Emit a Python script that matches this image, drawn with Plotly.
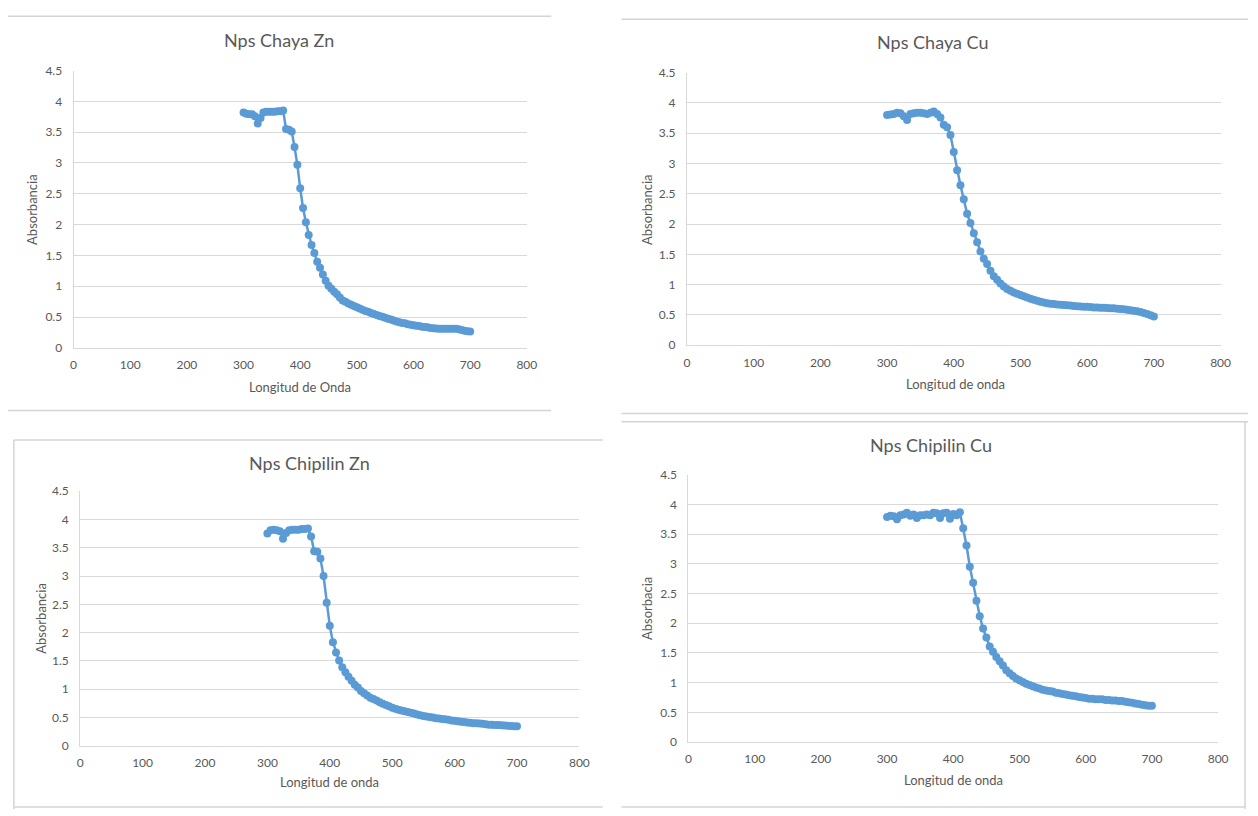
import plotly.graph_objects as go

# ---------------- data ----------------
wavelength = list(range(300, 701, 5))

chaya_zn = [3.82, 3.80, 3.79, 3.79, 3.76, 3.64, 3.73, 3.82, 3.83, 3.83,
            3.83, 3.83, 3.84, 3.84, 3.85, 3.55, 3.54, 3.51, 3.26, 2.97,
            2.59, 2.27, 2.04, 1.83, 1.67, 1.54, 1.40, 1.30, 1.19, 1.09,
            1.01, 0.96, 0.91, 0.87, 0.82, 0.77, 0.75, 0.72, 0.70, 0.68,
            0.66, 0.64, 0.62, 0.60, 0.585, 0.565, 0.55, 0.535, 0.52, 0.505,
            0.49, 0.475, 0.46, 0.445, 0.43, 0.415, 0.405, 0.40, 0.385, 0.375,
            0.37, 0.36, 0.355, 0.345, 0.34, 0.335, 0.325, 0.32, 0.315, 0.31,
            0.31, 0.31, 0.31, 0.31, 0.31, 0.31, 0.305, 0.29, 0.28, 0.27,
            0.265]

chaya_cu = [3.80, 3.81, 3.82, 3.84, 3.83, 3.78, 3.72, 3.82, 3.83, 3.84,
            3.84, 3.83, 3.82, 3.84, 3.86, 3.82, 3.76, 3.64, 3.60, 3.47,
            3.19, 2.89, 2.64, 2.41, 2.17, 2.02, 1.85, 1.70, 1.55, 1.43,
            1.34, 1.23, 1.14, 1.08, 1.02, 0.97, 0.93, 0.90, 0.87, 0.85,
            0.83, 0.81, 0.79, 0.77, 0.75, 0.735, 0.72, 0.705, 0.695, 0.685,
            0.68, 0.675, 0.67, 0.665, 0.66, 0.655, 0.65, 0.645, 0.64, 0.635,
            0.635, 0.63, 0.625, 0.625, 0.62, 0.62, 0.615, 0.61, 0.61, 0.605,
            0.60, 0.595, 0.585, 0.58, 0.57, 0.56, 0.55, 0.535, 0.515, 0.495,
            0.475]

chipilin_zn = [3.75, 3.81, 3.82, 3.81, 3.79, 3.66, 3.76, 3.81, 3.82, 3.82,
               3.82, 3.83, 3.83, 3.84, 3.70, 3.44, 3.43, 3.31, 3.00, 2.53,
               2.12, 1.83, 1.65, 1.51, 1.39, 1.30, 1.22, 1.15, 1.08, 1.03,
               0.97, 0.93, 0.89, 0.85, 0.83, 0.80, 0.77, 0.745, 0.72, 0.70,
               0.675, 0.655, 0.64, 0.625, 0.61, 0.60, 0.585, 0.57, 0.555, 0.54,
               0.53, 0.52, 0.51, 0.50, 0.49, 0.485, 0.475, 0.47, 0.46, 0.45,
               0.445, 0.435, 0.425, 0.42, 0.415, 0.41, 0.40, 0.40, 0.395, 0.39,
               0.38, 0.375, 0.375, 0.37, 0.37, 0.365, 0.36, 0.355, 0.35, 0.345,
               0.345]

chipilin_cu = [3.79, 3.81, 3.80, 3.75, 3.82, 3.83, 3.86, 3.81, 3.83, 3.77,
               3.82, 3.82, 3.83, 3.82, 3.86, 3.85, 3.77, 3.85, 3.86, 3.76,
               3.84, 3.82, 3.87, 3.60, 3.31, 2.95, 2.68, 2.38, 2.12, 1.91,
               1.76, 1.61, 1.52, 1.43, 1.36, 1.29, 1.21, 1.16, 1.11, 1.07,
               1.04, 1.01, 0.98, 0.96, 0.94, 0.92, 0.90, 0.88, 0.87, 0.86,
               0.85, 0.83, 0.82, 0.81, 0.80, 0.79, 0.78, 0.77, 0.76, 0.75,
               0.74, 0.73, 0.73, 0.72, 0.72, 0.72, 0.71, 0.71, 0.70, 0.70,
               0.69, 0.69, 0.68, 0.67, 0.66, 0.65, 0.64, 0.63, 0.62, 0.61,
               0.61]

titles = ["Nps Chaya Zn", "Nps Chaya Cu", "Nps Chipilin Zn", "Nps Chipilin Cu"]
x_titles = ["Longitud de Onda", "Longitud de onda", "Longitud de onda", "Longitud de onda"]
y_titles = ["Absorbancia", "Absorbancia", "Absorbancia", "Absorbacia"]
series = [chaya_zn, chaya_cu, chipilin_zn, chipilin_cu]

# ---------------- layout helpers ----------------
W, H = 1258, 816
def px(x):
    return x / W
def py(y):
    return 1 - y / H

# plot-area boxes in window pixels: (left, right, top, bottom)
boxes = [
    (71.3, 529.3, 63.7, 346.3),
    (691.1, 1230.3, 65.9, 343.6),
    (78.0, 582.4, 492.2, 751.7),
    (692.6, 1227.8, 475.5, 747.8),
]
title_pos = [(279, 33), (939, 35), (310, 464), (938, 445)]
xtitle_pos = [(300, 386.5), (962, 383), (330, 789), (960, 786.5)]
ytitle_pos = [(30, 205), (650.5, 205), (38, 621.5), (650.5, 611.5)]

BLUE = "#5B9BD5"
GREY_TXT = "#595959"
GRID = "#d9d9d9"
FONT = "Lato, 'Open Sans', sans-serif"

fig = go.Figure()
annotations = []
layout_axes = {}

for i in range(4):
    n = "" if i == 0 else str(i + 1)
    fig.add_trace(go.Scatter(
        x=wavelength, y=series[i], mode="lines+markers",
        xaxis="x" + n, yaxis="y" + n,
        line=dict(color=BLUE, width=2.5),
        marker=dict(color=BLUE, size=8, line=dict(width=0)),
        showlegend=False, hoverinfo="x+y", cliponaxis=False,
    ))
    l, r, t, b = boxes[i]
    layout_axes["xaxis" + n] = dict(
        domain=[px(l), px(r)], anchor="y" + n, range=[0, 800], dtick=100,
        tick0=0, showgrid=False, zeroline=False, showline=True,
        linecolor=GRID, linewidth=1, ticks="",
        tickfont=dict(family=FONT, size=12, color=GREY_TXT),
        ticklabelstandoff=6, fixedrange=True,
    )
    layout_axes["yaxis" + n] = dict(
        domain=[py(b), py(t)], anchor="x" + n, range=[0, 4.5], dtick=0.5,
        tick0=0, showgrid=True, gridcolor=GRID, gridwidth=1, zeroline=False,
        showline=True, linecolor=GRID, linewidth=1, ticks="",
        tickfont=dict(family=FONT, size=12, color=GREY_TXT),
        ticklabelstandoff=8, fixedrange=True,
    )
    tx, ty = title_pos[i]
    annotations.append(dict(text=titles[i], x=px(tx), y=py(ty), xref="paper",
                            yref="paper", showarrow=False, xanchor="center",
                            yanchor="middle",
                            font=dict(family=FONT, size=18, color=GREY_TXT)))
    tx, ty = xtitle_pos[i]
    annotations.append(dict(text=x_titles[i], x=px(tx), y=py(ty), xref="paper",
                            yref="paper", showarrow=False, xanchor="center",
                            yanchor="middle",
                            font=dict(family=FONT, size=13, color=GREY_TXT)))
    tx, ty = ytitle_pos[i]
    annotations.append(dict(text=y_titles[i], x=px(tx), y=py(ty), xref="paper",
                            yref="paper", showarrow=False, xanchor="center",
                            yanchor="middle", textangle=-90,
                            font=dict(family=FONT, size=13, color=GREY_TXT)))

# panel border lines (screenshot frame edges), in window pixels
BORDER = "#d4d4d4"
border_lines = [
    (5, 8.5, 554, 8.5), (5, 410, 554, 410),              # top-left panel
    (625, 11.5, 1258, 11.5), (625, 413, 1258, 413),      # top-right panel
    (11, 440, 606, 440), (11, 440, 11, 816), (11, 814, 606, 814),  # bottom-left
    (625, 421.5, 1258, 421.5), (1255, 421.5, 1255, 816),
    (625, 814, 1255, 814),                               # bottom-right
]
shapes = []
for x0, y0, x1, y1 in border_lines:
    shapes.append(dict(type="line", xref="paper", yref="paper",
                       x0=px(x0), y0=py(y0), x1=px(x1), y1=py(y1),
                       line=dict(color=BORDER, width=1.5)))

fig.update_layout(
    width=W, height=H, margin=dict(l=0, r=0, t=0, b=0),
    paper_bgcolor="white", plot_bgcolor="white",
    annotations=annotations, shapes=shapes, **layout_axes,
)

fig.write_html(
    "out.html", config={"displayModeBar": False},
    post_script=("document.documentElement.style.margin='0';"
                 "document.documentElement.style.padding='0';"
                 "document.body.style.margin='0';"
                 "document.body.style.padding='0';"
                 "document.body.style.overflow='hidden';"),
)
